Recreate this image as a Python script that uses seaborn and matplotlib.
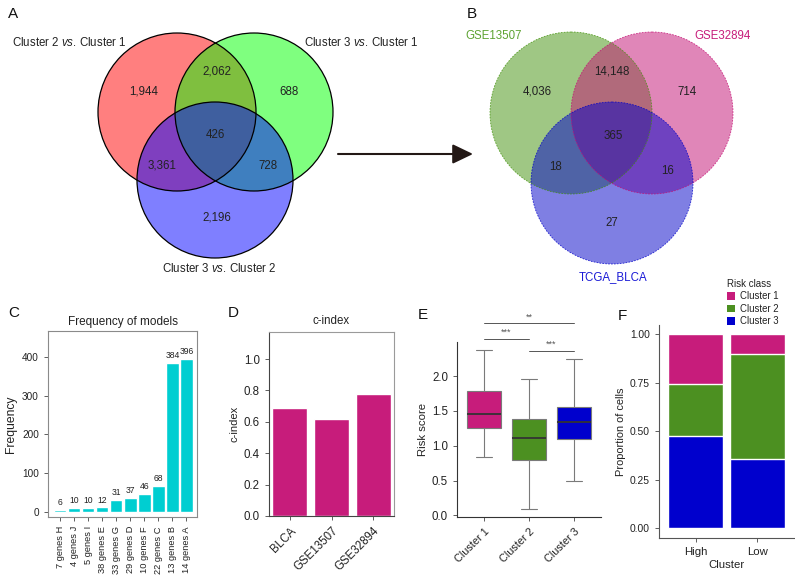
import matplotlib
matplotlib.use("Agg")
import matplotlib.pyplot as plt
from matplotlib.patches import Circle, Patch
import numpy as np
import pandas as pd
import seaborn as sns

# ---- data ----
# A: Venn of DEGs between clusters (regions: only1, only2, 1&2, only3, 1&3, 2&3, all)
venn_a_names = ["Cluster 2 $\\mathit{vs}$. Cluster 1", "Cluster 3 $\\mathit{vs}$. Cluster 1",
                "Cluster 3 $\\mathit{vs}$. Cluster 2"]
venn_a_counts = [1944, 688, 2062, 2196, 3361, 728, 426]
# B: Venn of cohorts
venn_b_names = ["GSE13507", "GSE32894", "TCGA_BLCA"]
venn_b_counts = [4036, 714, 14148, 27, 18, 16, 365]

# C: frequency of models
models = ["7 genes H", "4 genes J", "5 genes I", "38 genes E", "33 genes G",
          "29 genes D", "10 genes F", "22 genes C", "13 genes B", "14 genes A"]
model_freq = [6, 10, 10, 12, 31, 37, 46, 68, 384, 396]

# D: c-index
cohorts = ["BLCA", "GSE13507", "GSE32894"]
cindex = [0.69, 0.62, 0.78]

# E: risk score (min, Q1, median, Q3, max)
clusters = ["Cluster 1", "Cluster 2", "Cluster 3"]
score_c1 = [0.835, 1.25, 1.455, 1.79, 2.38]
score_c2 = [0.095, 0.80, 1.105, 1.39, 1.955]
score_c3 = [0.49, 1.10, 1.335, 1.56, 2.245]

# F: proportion of clusters per risk class
risk_groups = ["High", "Low"]
prop_c1 = [0.255, 0.102]
prop_c2 = [0.267, 0.541]
prop_c3 = [0.478, 0.357]

MAG = "#C71C7B"
GRN = "#4C9021"
BLU = "#0000CD"

sns.set_style("ticks")
plt.rcParams["font.family"] = ["Liberation Sans", "DejaVu Sans"]
plt.rcParams["mathtext.fontset"] = "custom"
plt.rcParams["mathtext.rm"] = "Liberation Sans"
plt.rcParams["mathtext.it"] = "Liberation Sans:italic"
plt.rcParams["text.color"] = "#222222"
plt.rcParams["axes.labelcolor"] = "#222222"
plt.rcParams["xtick.color"] = "#444444"
plt.rcParams["ytick.color"] = "#444444"
plt.rcParams["xtick.labelcolor"] = "#222222"
plt.rcParams["ytick.labelcolor"] = "#222222"

W, H = 795, 578
fig = plt.figure(figsize=(W / 100, H / 100), dpi=100)


def box(l, t, r, b):
    return [l / W, 1 - b / H, (r - l) / W, (b - t) / H]


# overlay in pixel coordinates for Venns, arrow and panel letters
ov = fig.add_axes([0, 0, 1, 1], zorder=-1)
ov.set_xlim(0, W)
ov.set_ylim(H, 0)
ov.axis("off")

# ---- A ----
circ_a = [((177, 112), 79, (1, 0, 0)), ((254, 112), 79, (0, 1, 0)), ((215, 180), 78, (0, 0, 1))]
for c, r, col in circ_a:
    ov.add_patch(Circle(c, r, facecolor=(*col, 0.5), edgecolor="none"))
for c, r, col in circ_a:
    ov.add_patch(Circle(c, r, fill=False, edgecolor="black", lw=0.9))
pos_a = [(144, 92), (289, 92), (217, 72), (217, 218), (162, 166), (268, 166), (215, 135)]
for (x, y), v in zip(pos_a, venn_a_counts):
    ov.text(x, y, f"{v:,}", ha="center", va="center", fontsize=8.3)
ov.text(12, 43, venn_a_names[0], ha="left", va="center", fontsize=8.3)
ov.text(304, 43, venn_a_names[1], ha="left", va="center", fontsize=8.3)
ov.text(219, 269, venn_a_names[2], ha="center", va="center", fontsize=8.3)

# ---- B ----
circ_b = [((571, 113), 81, "#41910A", "#5DA332"), ((652, 113), 81, "#C30F73", MAG),
          ((612, 183), 81, "#0000C8", "#1A1AD6")]
for c, r, col, _ in circ_b:
    ov.add_patch(Circle(c, r, facecolor=col, alpha=0.5, edgecolor="none"))
for c, r, col, _ in circ_b:
    ov.add_patch(Circle(c, r, fill=False, edgecolor=col, lw=0.6, ls=(0, (2, 1.5)), alpha=0.8))
pos_b = [(537, 92), (687, 92), (612, 72), (612, 223), (556, 167), (668, 171), (613, 136)]
for (x, y), v in zip(pos_b, venn_b_counts):
    ov.text(x, y, f"{v:,}", ha="center", va="center", fontsize=8.3)
ov.text(465, 36, venn_b_names[0], ha="left", va="center", fontsize=8.3, color=circ_b[0][3])
ov.text(751, 36, venn_b_names[1], ha="right", va="center", fontsize=8.3, color=circ_b[1][3])
ov.text(613, 277, venn_b_names[2], ha="center", va="center", fontsize=8.3, color=circ_b[2][3])

ov.annotate("", xy=(473, 154), xytext=(338, 154),
            arrowprops=dict(arrowstyle="-|>,head_length=1.25,head_width=0.6",
                            mutation_scale=10, lw=1.5, color="#231815",
                            shrinkA=0, shrinkB=0))

for letter, x, y in [("A", 8, 14), ("B", 467, 14), ("C", 8, 313), ("D", 228, 313),
                     ("E", 418, 315), ("F", 618, 316)]:
    ov.text(x, y, letter, ha="left", va="center", fontsize=11, color="#111111")

# ---- C ----
axc = fig.add_axes(box(48, 331, 197, 517))
sns.barplot(x=models, y=model_freq, color="#00CED1", saturation=1, width=0.88, ax=axc)
axc.bar_label(axc.containers[0], fontsize=6.2, padding=2)
axc.set_ylim(-13, 467)
axc.set_xlim(-0.88, 9.76)
axc.set_yticks([0, 100, 200, 300, 400])
axc.set_title("Frequency of models", fontsize=8.5, pad=4)
axc.set_ylabel("Frequency", fontsize=8.7, labelpad=4)
axc.tick_params(axis="y", labelsize=7.2, length=3, width=0.6)
axc.tick_params(axis="x", labelsize=6.7, length=3, width=0.6, rotation=90)
for s in axc.spines.values():
    s.set_color("#8a8a8a")
    s.set_linewidth(0.8)

# ---- D ----
axd = fig.add_axes(box(269, 332, 394, 516))
sns.barplot(x=cohorts, y=cindex, color=MAG, saturation=1, width=0.84, ax=axd)
axd.set_ylim(0, 1.172)
axd.set_xlim(-0.5, 2.5)
axd.set_yticks([0, 0.2, 0.4, 0.6, 0.8, 1.0])
axd.set_yticklabels(["0.0", "0.2", "0.4", "0.6", "0.8", "1.0"])
axd.set_title("c-index", fontsize=8.3, pad=6)
axd.set_ylabel("c-index", fontsize=8, labelpad=3)
axd.tick_params(axis="y", labelsize=8.3, length=3, width=0.6)
axd.tick_params(axis="x", labelsize=8.3, length=3, width=0.6)
plt.setp(axd.get_xticklabels(), rotation=45, ha="right", rotation_mode="anchor")
for k, s in axd.spines.items():
    s.set_linewidth(0.8)
    s.set_color("#444444" if k in ("left", "bottom") else "#9a9a9a")

# ---- E ----
axe = fig.add_axes(box(457, 342, 601, 517))
df_e = pd.DataFrame({
    "cluster": [clusters[0]] * len(score_c1) + [clusters[1]] * len(score_c2)
               + [clusters[2]] * len(score_c3),
    "score": score_c1 + score_c2 + score_c3,
})
sns.boxplot(data=df_e, x="cluster", y="score", hue="cluster",
            palette=[MAG, GRN, BLU], width=0.75, whis=(0, 100), saturation=1,
            linecolor="#7a7a7a", linewidth=0.8, legend=False, ax=axe,
            medianprops=dict(color="#333333", lw=1.3))
axe.set_ylim(-0.023, 2.49)
axe.set_xlim(-0.6, 2.6)
axe.set_yticks([0, 0.5, 1.0, 1.5, 2.0])
axe.set_yticklabels(["0.0", "0.5", "1.0", "1.5", "2.0"])
axe.set_xlabel("")
axe.set_ylabel("Risk score", fontsize=8.2, labelpad=3)
axe.tick_params(axis="y", labelsize=8.3, length=3, width=0.6)
axe.tick_params(axis="x", labelsize=7.8, length=3, width=0.6)
plt.setp(axe.get_xticklabels(), rotation=45, ha="right", rotation_mode="anchor")
sns.despine(ax=axe)
for k in ("left", "bottom"):
    axe.spines[k].set_color("#333333")
    axe.spines[k].set_linewidth(0.8)
for x0, x1, y, lab in [(0, 2, 2.757, "**"), (0, 1, 2.54, "***"), (1, 2, 2.357, "***")]:
    axe.plot([x0, x1], [y, y], color="#555555", lw=0.7, clip_on=False)
    axe.text((x0 + x1) / 2, y + 0.03, lab, ha="center", va="bottom", fontsize=6.5,
             color="#555555", clip_on=False)

# ---- F ----
axf = fig.add_axes(box(659, 324.6, 794, 538))
top_c2 = [a + b for a, b in zip(prop_c3, prop_c2)]
top_c1 = [a + b for a, b in zip(top_c2, prop_c1)]
sns.barplot(x=risk_groups, y=top_c1, color=MAG, saturation=1, width=0.9, ax=axf)
sns.barplot(x=risk_groups, y=top_c2, color=GRN, saturation=1, width=0.9, ax=axf)
sns.barplot(x=risk_groups, y=prop_c3, color=BLU, saturation=1, width=0.9, ax=axf)
axf.set_ylim(-0.05, 1.05)
axf.set_xlim(-0.6, 1.6)
axf.set_yticks([0, 0.25, 0.5, 0.75, 1.0])
axf.set_yticklabels(["0.00", "0.25", "0.50", "0.75", "1.00"])
axf.set_xlabel("Cluster", fontsize=8.2, labelpad=2)
axf.set_ylabel("Proportion of cells", fontsize=7.9, labelpad=3)
axf.tick_params(axis="y", labelsize=7.4, length=3, width=0.6)
axf.tick_params(axis="x", labelsize=8.2, length=3, width=0.6)
sns.despine(ax=axf)
for k in ("left", "bottom"):
    axf.spines[k].set_color("#555555")
    axf.spines[k].set_linewidth(0.8)

handles = [Patch(facecolor=c, edgecolor="none") for c in (MAG, GRN, BLU)]
leg = fig.legend(handles, clusters, title="Risk class", loc="upper left",
                 bbox_to_anchor=(727 / W, 1 - 279 / H), frameon=False,
                 fontsize=6.9, title_fontsize=7, handlelength=0.85, handleheight=0.85,
                 handletextpad=0.5, labelspacing=0.25, borderpad=0, borderaxespad=0,
                 alignment="left")

fig.savefig("out.png", dpi=100)
